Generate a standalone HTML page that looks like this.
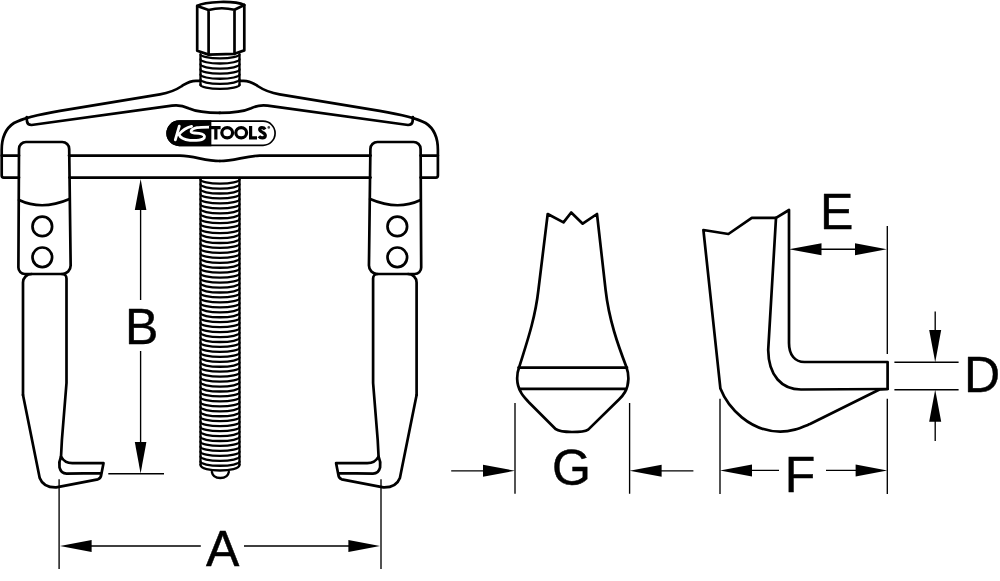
<!DOCTYPE html>
<html><head><meta charset="utf-8"><style>
html,body{margin:0;padding:0;background:#fff;width:1000px;height:581px;overflow:hidden}
svg{display:block}
text{font-family:"Liberation Sans",sans-serif}
</style></head><body>
<svg width="1000" height="581" viewBox="0 0 1000 581">
<g fill="none" stroke="#000" stroke-width="2.7" stroke-linejoin="round" stroke-linecap="round">

<path d="M199.6,80.8 L196,80.8 C189,80.8 186,83.5 182,86 C176,90 168,93 160,94.3 L60,110.8 C42,113.8 24,117.5 14,123 C6.2,128 1.7,136 1.7,150 L1.7,175.6 Q1.7,177.6 3.7,177.6 L19,177.6"/>
<path d="M26.7,117.2 L27,121.5 C27.5,124.5 29,125 31.5,125 L172,105.6 C177.5,104.8 182.5,105.3 188.5,108.2 C197,112 208,112.8 220,112.8"/>
<path d="M1.7,155.6 L19,155.6 M69,155.6 L180,155.6 C195,156 205,161 220,161"/>

<path d="M19,149 A7,7 0 0 1 26,142 L62.2,142 A7,7 0 0 1 69.2,149 L70.65,265.6 A8.4,8.4 0 0 1 62.25,274 L24.8,274 A6.4,6.4 0 0 1 18.4,267.6 Z"/>
<path d="M19,200 Q42,211 69.5,199"/>
<circle cx="42.3" cy="226.4" r="9.8"/>
<circle cx="42.3" cy="257.3" r="9.8"/>
<path d="M23,395 L23,282.5 A8.5,8.5 0 0 1 31.5,274 M62,274 A4.5,4.5 0 0 1 66.5,278.5 L66.5,383 L61.9,440 L61,457"/>
<path d="M23,395 L39.7,477.9 C42,484 48,487.5 56.2,487.3 L97.9,479.3 C100,478.5 101,477 101.2,475 L103.5,463.2 L72.3,463.2 C67,463.2 63.2,460.5 61,456.6 C59,461 59,464 59.5,467.4 C60.5,471.5 63,473.6 66.6,473.6 L100.9,473.1"/>

<g transform="translate(439.6,0) scale(-1,1)">
<path d="M199.6,80.8 L196,80.8 C189,80.8 186,83.5 182,86 C176,90 168,93 160,94.3 L60,110.8 C42,113.8 24,117.5 14,123 C6.2,128 1.7,136 1.7,150 L1.7,175.6 Q1.7,177.6 3.7,177.6 L19,177.6"/>
<path d="M26.7,117.2 L27,121.5 C27.5,124.5 29,125 31.5,125 L172,105.6 C177.5,104.8 182.5,105.3 188.5,108.2 C197,112 208,112.8 220,112.8"/>
<path d="M1.7,155.6 L19,155.6 M69,155.6 L180,155.6 C195,156 205,161 220,161"/>

<path d="M19,149 A7,7 0 0 1 26,142 L62.2,142 A7,7 0 0 1 69.2,149 L70.65,265.6 A8.4,8.4 0 0 1 62.25,274 L24.8,274 A6.4,6.4 0 0 1 18.4,267.6 Z"/>
<path d="M19,200 Q42,211 69.5,199"/>
<circle cx="42.3" cy="226.4" r="9.8"/>
<circle cx="42.3" cy="257.3" r="9.8"/>
<path d="M23,395 L23,282.5 A8.5,8.5 0 0 1 31.5,274 M62,274 A4.5,4.5 0 0 1 66.5,278.5 L66.5,383 L61.9,440 L61,457"/>
<path d="M23,395 L39.7,477.9 C42,484 48,487.5 56.2,487.3 L97.9,479.3 C100,478.5 101,477 101.2,475 L103.5,463.2 L72.3,463.2 C67,463.2 63.2,460.5 61,456.6 C59,461 59,464 59.5,467.4 C60.5,471.5 63,473.6 66.6,473.6 L100.9,473.1"/>
</g>
<path d="M69.5,177.6 L370.5,177.6"/>
<!-- hex nut -->
<path d="M197.2,6 C205,1.2 235,0.5 244.3,5 L244.3,50.4 L234.5,53.8 L208.6,54.6 L197.2,50.8 Z"/>
<path d="M197.2,6 L208.6,10 Q221.5,6.6 234.5,9.8 L244.3,5 M208.6,10 L208.6,54.6 M234.5,9.8 L234.5,53.8"/>
<!-- threads -->
<path d="M200.5,55 L200.5,85.3 M239.5,55 L239.5,85.3" stroke-width="2.3"/>
<path d="M200.5,54.20A19.50,4.20 0 0 0 239.5,54.20M200.5,59.28A19.50,4.20 0 0 0 239.5,59.28M200.5,64.37A19.50,4.20 0 0 0 239.5,64.37M200.5,69.45A19.50,4.20 0 0 0 239.5,69.45M200.5,74.53A19.50,4.20 0 0 0 239.5,74.53M200.5,79.62A19.50,4.20 0 0 0 239.5,79.62M200.5,84.70A19.50,4.20 0 0 0 239.5,84.70" stroke-width="2.3"/>
<path d="M200.5,178 L200.5,464.8 M239.5,178 L239.5,464.8" stroke-width="2.3"/>
<path d="M200.5,179.40A19.50,4.20 0 0 0 239.5,179.40M200.5,184.35A19.50,4.20 0 0 0 239.5,184.35M200.5,189.30A19.50,4.20 0 0 0 239.5,189.30M200.5,194.25A19.50,4.20 0 0 0 239.5,194.25M200.5,199.20A19.50,4.20 0 0 0 239.5,199.20M200.5,204.15A19.50,4.20 0 0 0 239.5,204.15M200.5,209.10A19.50,4.20 0 0 0 239.5,209.10M200.5,214.05A19.50,4.20 0 0 0 239.5,214.05M200.5,219.00A19.50,4.20 0 0 0 239.5,219.00M200.5,223.95A19.50,4.20 0 0 0 239.5,223.95M200.5,228.90A19.50,4.20 0 0 0 239.5,228.90M200.5,233.85A19.50,4.20 0 0 0 239.5,233.85M200.5,238.80A19.50,4.20 0 0 0 239.5,238.80M200.5,243.75A19.50,4.20 0 0 0 239.5,243.75M200.5,248.70A19.50,4.20 0 0 0 239.5,248.70M200.5,253.65A19.50,4.20 0 0 0 239.5,253.65M200.5,258.60A19.50,4.20 0 0 0 239.5,258.60M200.5,263.55A19.50,4.20 0 0 0 239.5,263.55M200.5,268.50A19.50,4.20 0 0 0 239.5,268.50M200.5,273.45A19.50,4.20 0 0 0 239.5,273.45M200.5,278.40A19.50,4.20 0 0 0 239.5,278.40M200.5,283.35A19.50,4.20 0 0 0 239.5,283.35M200.5,288.30A19.50,4.20 0 0 0 239.5,288.30M200.5,293.25A19.50,4.20 0 0 0 239.5,293.25M200.5,298.20A19.50,4.20 0 0 0 239.5,298.20M200.5,303.15A19.50,4.20 0 0 0 239.5,303.15M200.5,308.10A19.50,4.20 0 0 0 239.5,308.10M200.5,313.05A19.50,4.20 0 0 0 239.5,313.05M200.5,318.00A19.50,4.20 0 0 0 239.5,318.00M200.5,322.95A19.50,4.20 0 0 0 239.5,322.95M200.5,327.90A19.50,4.20 0 0 0 239.5,327.90M200.5,332.85A19.50,4.20 0 0 0 239.5,332.85M200.5,337.80A19.50,4.20 0 0 0 239.5,337.80M200.5,342.75A19.50,4.20 0 0 0 239.5,342.75M200.5,347.70A19.50,4.20 0 0 0 239.5,347.70M200.5,352.65A19.50,4.20 0 0 0 239.5,352.65M200.5,357.60A19.50,4.20 0 0 0 239.5,357.60M200.5,362.55A19.50,4.20 0 0 0 239.5,362.55M200.5,367.50A19.50,4.20 0 0 0 239.5,367.50M200.5,372.45A19.50,4.20 0 0 0 239.5,372.45M200.5,377.40A19.50,4.20 0 0 0 239.5,377.40M200.5,382.35A19.50,4.20 0 0 0 239.5,382.35M200.5,387.30A19.50,4.20 0 0 0 239.5,387.30M200.5,392.25A19.50,4.20 0 0 0 239.5,392.25M200.5,397.20A19.50,4.20 0 0 0 239.5,397.20M200.5,402.15A19.50,4.20 0 0 0 239.5,402.15M200.5,407.10A19.50,4.20 0 0 0 239.5,407.10M200.5,412.05A19.50,4.20 0 0 0 239.5,412.05M200.5,417.00A19.50,4.20 0 0 0 239.5,417.00M200.5,421.95A19.50,4.20 0 0 0 239.5,421.95M200.5,426.90A19.50,4.20 0 0 0 239.5,426.90M200.5,431.85A19.50,4.20 0 0 0 239.5,431.85M200.5,436.80A19.50,4.20 0 0 0 239.5,436.80M200.5,441.75A19.50,4.20 0 0 0 239.5,441.75M200.5,446.70A19.50,4.20 0 0 0 239.5,446.70M200.5,451.65A19.50,4.20 0 0 0 239.5,451.65M200.5,456.60A19.50,4.20 0 0 0 239.5,456.60M200.5,461.55A19.50,4.20 0 0 0 239.5,461.55" stroke-width="2.3"/>
<path d="M200.5,464.8 C200.5,472.4 239.5,472.4 239.5,464.8" stroke-width="2.3"/>
<path d="M211.8,471.8 C212.5,476 215.5,478 220.3,478 C225,478 228.2,476 228.9,471.8" stroke-width="2.3"/>
<!-- G piece -->
<path d="M547.7,214 L563.5,222.4 L571.2,212.5 L582.7,223.7 L597,214 L605.6,290 C609,320 618,345 626.4,367 C629,374 629.5,384 625,392 C623,395.5 621.5,397 619.2,399.2 L588.2,429.6 C585,431.6 578,432 572,432 C565,432 559,431.6 555.8,429.2 L528.8,402.2 C525,398 522,395 520.8,392 C516,384 516.5,374 519.2,367 C526,345 535,320 538.4,290 Z"/>
<path d="M518.5,367.6 L627,367.6 M520,388.8 L624.8,388.8"/>
<!-- F piece -->
<path d="M703.4,230 L728.4,234 L751.8,217.8 L776,217.8 L789,210 L789,343 C789,355 795,362 804.4,362 L887.6,362 L887.6,389 L880,389.3 L810,424 C800,428 792,431.6 780.3,431.6 C750,431.6 728,408 720.4,388.6 Z"/>
<path d="M776,217.8 L768.2,350 C768.5,376 782,389.5 801,389.5 L887.6,389"/>
</g>
<g fill="none" stroke="#000" stroke-width="1.35">
<!-- dimension lines -->
<path d="M140.6,200 L140.6,300 M140.6,351 L140.6,450 M108.3,473.7 L164,473.7"/>
<path d="M59.1,479.3 L59.1,569 M381,479.3 L381,569 M75,546 L200.8,546 M244,546 L365,546"/>
<path d="M451.2,470.8 L500,470.8 M515,403 L515,493.8 M629.6,403 L629.6,493.8 M645,470.8 L693.4,470.8"/>
<path d="M720,398.8 L720,494 M887.3,398.8 L887.3,494 M735,470.4 L779,470.4 M826,470.4 L870,470.4"/>
<path d="M887.3,226 L887.3,354 M805,249.2 L870,249.2"/>
<path d="M894.4,362.2 L958.6,362.2 M894.4,389.7 L958.6,389.7 M935.2,311.5 L935.2,345 M935.2,405 L935.2,441"/>
</g>
<g fill="#000" stroke="none">
<!-- arrowheads -->
<path d="M140.6,179 L146.4,210 L134.8,210 Z"/>
<path d="M140.6,473.5 L146.4,442 L134.8,442 Z"/>
<path d="M60,546 L91.6,540 L91.6,552 Z"/>
<path d="M380,546 L348.4,540 L348.4,552 Z"/>
<path d="M515,470.8 L483,464.8 L483,476.8 Z"/>
<path d="M629.6,470.8 L661.6,464.8 L661.6,476.8 Z"/>
<path d="M720,470.4 L752,464.4 L752,476.4 Z"/>
<path d="M887.3,470.4 L855.6,464.4 L855.6,476.4 Z"/>
<path d="M789,249.2 L821.5,243.2 L821.5,255.2 Z"/>
<path d="M886.8,249.2 L855,243.2 L855,255.2 Z"/>
<path d="M935.2,362.2 L929.2,330 L941.2,330 Z"/>
<path d="M935.2,389.7 L929.2,421.7 L941.2,421.7 Z"/>
</g>
<!-- letters -->
<g fill="#000" font-size="50" stroke="#000" stroke-width="0.45">
<text x="125" y="344">B</text>
<text x="206" y="565.7">A</text>
<text x="552" y="485.4">G</text>
<text x="784.8" y="491.8">F</text>
<text x="820" y="228.8">E</text>
<text x="964" y="392">D</text>
</g>
<!-- logo -->
<g>
<path d="M179.2,121.2 H263.05 A12.05,12.05 0 0 1 263.05,145.3 H179.2 A12.05,12.05 0 0 1 179.2,121.2 Z" fill="#fff" stroke="#000" stroke-width="1.7"/>
<path d="M179.2,121.2 H210.5 V145.3 H179.2 A12.05,12.05 0 0 1 179.2,121.2 Z" fill="#000" stroke="#000" stroke-width="1.7"/>
<g fill="none" stroke="#fff" stroke-width="2.8" stroke-linecap="round" stroke-linejoin="round">
<path d="M175.3,139.9 L179.3,126.2"/>
<path d="M191.6,126.3 C187.6,127.2 182.5,130 178.9,134.4 C180,137 183,139.6 190,140.3 L196.4,140.4 C200,140.3 203,139.4 204.3,137.6 C205.2,135.6 203.5,134.1 199,133.4 L194.2,133 C191.9,132.8 190.8,132.1 191.1,131.1 C191.6,129.7 193.6,128.4 197,127.7 C199,127.3 202,127.2 209.2,127.1"/>
</g>
<g fill="none" stroke="#000" stroke-width="3.2">
<path d="M209,127.7 H220.6 M215.85,127.6 V139.4"/>
<ellipse cx="227.2" cy="132.8" rx="5.4" ry="5.15"/>
<ellipse cx="241.2" cy="132.8" rx="5.4" ry="5.15"/>
<path d="M250.6,126 V137.8 H257"/>
<path d="M265.1,129.3 C264.3,128 263.1,127.6 261.9,127.6 C260.4,127.6 259.7,128.4 259.7,129.6 C259.7,131 261,131.7 262.6,132.4 C264.4,133.1 265.3,134.1 265.3,135.6 C265.3,137.1 264.2,137.9 262.3,137.9 C260.9,137.9 259.7,137.3 258.9,136.2"/>
</g>
<circle cx="268.8" cy="127.4" r="1.3" fill="#444"/>
</g>
</svg>
</body></html>
